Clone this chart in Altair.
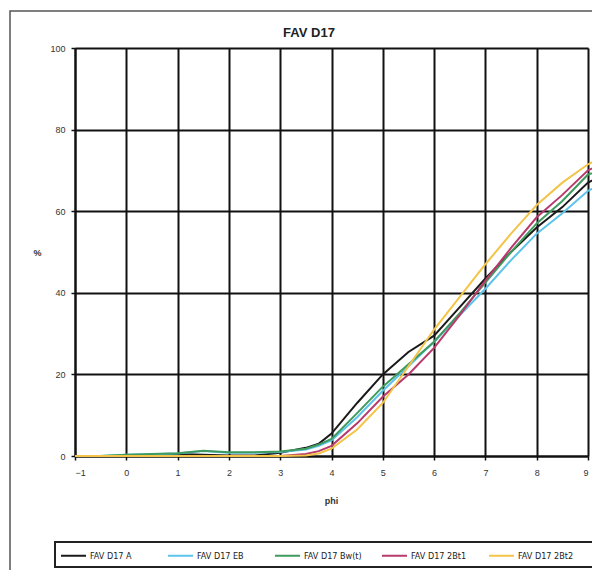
import altair as alt
import pandas as pd

# ---- data ----
phi = [-1, -0.5, 0, 0.5, 1, 1.5, 2, 2.5, 3, 3.5, 3.75, 4, 4.5, 5, 5.5, 6, 6.5, 7, 7.5, 8, 8.5, 9, 9.25]

series_names = ["FAV D17 A", "FAV D17 EB", "FAV D17 Bw(t)", "FAV D17 2Bt1", "FAV D17 2Bt2"]
series_colors = ["#1a1a1a", "#5cc3ea", "#3f9a5e", "#b83a6c", "#f3c447"]

vals_A   = [0, 0, 0, 0.2, 0.5, 0.3, 0.1, 0.1, 0.8, 2.0, 3.0, 5.5, 13, 20, 25.5, 29.5, 36.5, 43.5, 50, 56, 61, 67, 68.5]
vals_EB  = [0, 0, 0.3, 0.4, 0.6, 1.2, 0.8, 0.8, 1.0, 1.6, 2.5, 3.8, 9.5, 16, 22, 28, 34.5, 41, 48, 54.5, 59.5, 65, 66.5]
vals_Bw  = [0, 0, 0.3, 0.5, 0.7, 1.3, 0.9, 0.9, 1.1, 1.8, 2.8, 4.2, 10.5, 17, 22.5, 28, 35, 42.5, 50, 57, 62.5, 69, 70]
vals_2B1 = [0, 0, 0, 0, 0, 0, 0, 0, 0, 0.5, 1.2, 2.5, 8, 14.5, 20, 26.5, 34.5, 43, 51, 58.5, 64, 70, 71.5]
vals_2B2 = [0, 0, 0, 0, 0, 0, 0, 0, 0, 0.1, 0.6, 1.8, 6.5, 13, 22, 31, 39, 47, 54.5, 61.5, 67, 71.5, 73]

x_ticks = [-1, 0, 1, 2, 3, 4, 5, 6, 7, 8, 9]
y_ticks = [0, 20, 40, 60, 80, 100]
chart_title = ["FAV D17"]

rows = []
for order, (name, vals) in enumerate(zip(series_names, [vals_A, vals_EB, vals_Bw, vals_2B1, vals_2B2])):
    for p, v in zip(phi, vals):
        rows.append({"phi": p, "pct": v, "series": name, "z": order})
df = pd.DataFrame(rows)

FONT = "Liberation Sans"
NARROW = "Liberation Sans Narrow, DejaVu Sans Condensed, Liberation Sans"

lines = alt.Chart(df).mark_line(strokeWidth=2, clip=False).encode(
    x=alt.X("phi:Q",
            scale=alt.Scale(domain=[-1, 9], nice=False, zero=False),
            axis=alt.Axis(values=x_ticks, title="phi", format="d",
                          labelFontSize=9, labelFont=FONT, labelColor="#333",
                          labelPadding=8, tickSize=4, tickColor="#111", tickWidth=1.5,
                          domainColor="#111", domainWidth=2,
                          grid=True, gridColor="#111", gridWidth=2, gridOpacity=1,
                          titleFontSize=9, titleFont=FONT, titleFontWeight="bold", titleColor="#333",
                          titleX=256, titleY=44, titleBaseline="middle", titleAlign="center")),
    y=alt.Y("pct:Q",
            scale=alt.Scale(domain=[0, 100], nice=False),
            axis=alt.Axis(values=y_ticks, title="%",
                          labelFontSize=9, labelFont=FONT, labelColor="#333",
                          labelPadding=6, tickSize=4, tickColor="#111", tickWidth=1.5,
                          domainColor="#111", domainWidth=2,
                          grid=True, gridColor="#111", gridWidth=2, gridOpacity=1,
                          titleFontSize=9, titleFont=FONT, titleFontWeight="bold", titleColor="#333",
                          titleAngle=0, titleX=-38, titleY=204,
                          titleAlign="center", titleBaseline="middle")),
    color=alt.Color("series:N",
                    scale=alt.Scale(domain=series_names, range=series_colors),
                    legend=alt.Legend(title=None, orient="none", legendX=-15, legendY=494,
                                      direction="horizontal", columns=5, gridAlign="all",
                                      columnPadding=16, padding=0,
                                      symbolType="stroke", symbolSize=625, symbolStrokeWidth=2,
                                      labelFontSize=9, labelFont=NARROW,
                                      labelColor="#222", labelOffset=3)),
    order=alt.Order("z:Q"),
)

frame = alt.Chart(pd.DataFrame({"k": [0]})).mark_rect(
    fillOpacity=0, stroke="#555", strokeWidth=1.5
).encode(x=alt.value(-65), x2=alt.value(560), y=alt.value(-37), y2=alt.value(600))

legend_box = alt.Chart(pd.DataFrame({"k": [0]})).mark_rect(
    fillOpacity=0, stroke="#222", strokeWidth=2
).encode(x=alt.value(-20), x2=alt.value(518), y=alt.value(494), y2=alt.value(519))

title_text = alt.Chart(pd.DataFrame({"t": chart_title})).mark_text(
    font=FONT, fontSize=13, fontWeight="bold", color="#222",
    align="center", baseline="middle"
).encode(text="t:N", x=alt.value(234), y=alt.value(-15))

chart = alt.layer(frame, legend_box, lines, title_text).properties(
    width=513, height=408,
    autosize=alt.AutoSizeParams(type="none"),
    padding={"left": 67, "top": 40, "right": 4, "bottom": 114},
).configure_view(stroke=None).configure(background="white")

chart.save("out.html", embed_options={"renderer": "svg", "actions": False})
